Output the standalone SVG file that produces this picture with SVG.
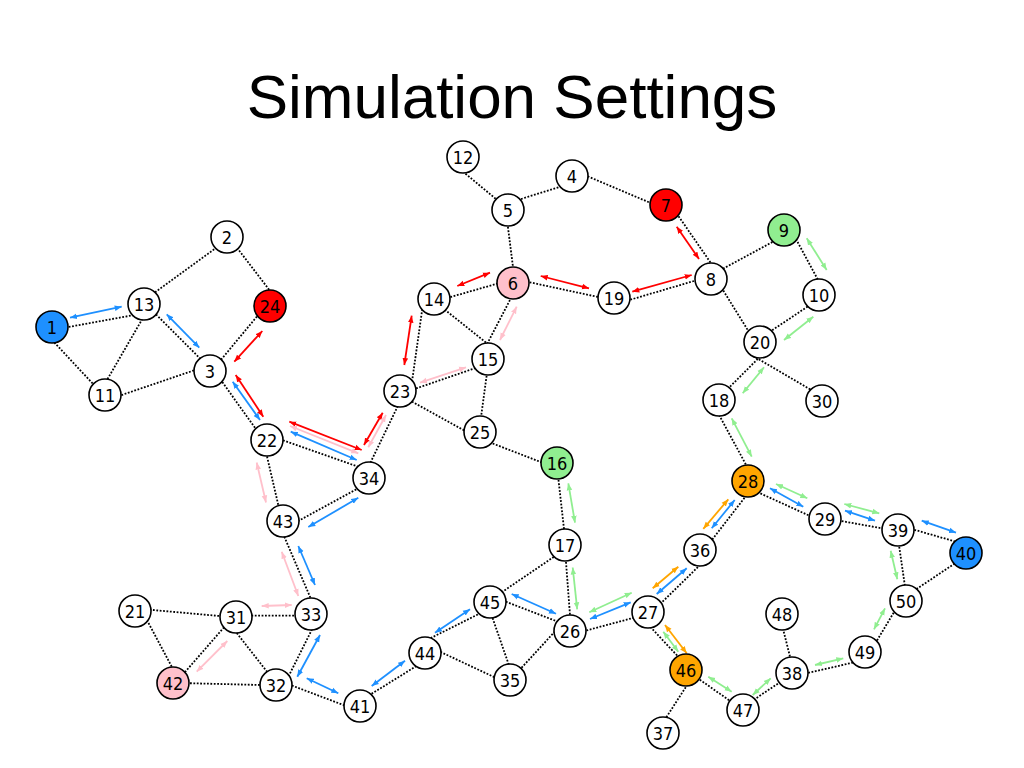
<svg xmlns="http://www.w3.org/2000/svg" width="1024" height="768" viewBox="0 0 1024 768">
<style>
.e{stroke:#000;stroke-width:1.8;stroke-dasharray:1.8 1.6;fill:none}
.a{stroke-width:1.8;fill:none}
.bl{stroke:#1e90ff;marker-start:url(#mb);marker-end:url(#mb)}
.rd{stroke:#ff0000;marker-start:url(#mr);marker-end:url(#mr)}
.pk{stroke:#ffc0cb;marker-start:url(#mp);marker-end:url(#mp)}
.gr{stroke:#90ee90;marker-start:url(#mg);marker-end:url(#mg)}
.or{stroke:#ffa500;marker-start:url(#mo);marker-end:url(#mo)}
.n circle{fill:#fff;stroke:#000;stroke-width:1.6}
.n text{font-family:"DejaVu Sans Condensed","DejaVu Sans",sans-serif;font-stretch:condensed;font-size:18px;text-anchor:middle;fill:#000}
.title{font-family:"Liberation Sans",Arial,sans-serif;font-size:62px;text-anchor:middle;fill:#000}
</style>
<defs>
<marker id="mb" viewBox="0 0 10 10" refX="10" refY="5" markerWidth="7" markerHeight="7" markerUnits="userSpaceOnUse" orient="auto-start-reverse"><path d="M0,1 L10,5 L0,9 z" fill="#1e90ff"/></marker>
<marker id="mr" viewBox="0 0 10 10" refX="10" refY="5" markerWidth="7" markerHeight="7" markerUnits="userSpaceOnUse" orient="auto-start-reverse"><path d="M0,1 L10,5 L0,9 z" fill="#ff0000"/></marker>
<marker id="mp" viewBox="0 0 10 10" refX="10" refY="5" markerWidth="7" markerHeight="7" markerUnits="userSpaceOnUse" orient="auto-start-reverse"><path d="M0,1 L10,5 L0,9 z" fill="#ffc0cb"/></marker>
<marker id="mg" viewBox="0 0 10 10" refX="10" refY="5" markerWidth="7" markerHeight="7" markerUnits="userSpaceOnUse" orient="auto-start-reverse"><path d="M0,1 L10,5 L0,9 z" fill="#90ee90"/></marker>
<marker id="mo" viewBox="0 0 10 10" refX="10" refY="5" markerWidth="7" markerHeight="7" markerUnits="userSpaceOnUse" orient="auto-start-reverse"><path d="M0,1 L10,5 L0,9 z" fill="#ffa500"/></marker>
</defs>
<rect width="1024" height="768" fill="#fff"/>
<text class="title" x="512" y="118">Simulation Settings</text>
<g id="connectors">
<g id="edges">
<line class="e" x1="52" y1="330" x2="144" y2="313.2"/>
<line class="e" x1="47.3" y1="335" x2="103.4" y2="395"/>
<line class="e" x1="151" y1="304" x2="98.3" y2="395"/>
<line class="e" x1="144" y1="300.4" x2="227" y2="240"/>
<line class="e" x1="144" y1="302.4" x2="210" y2="368.4"/>
<line class="e" x1="228.8" y1="237" x2="274.7" y2="297"/>
<line class="e" x1="265.6" y1="306" x2="211.7" y2="371"/>
<line class="e" x1="210" y1="364.9" x2="105" y2="400.7"/>
<line class="e" x1="214.4" y1="371" x2="263.7" y2="440"/>
<line class="e" x1="267" y1="434.7" x2="369" y2="470.5"/>
<line class="e" x1="263.2" y1="440" x2="282" y2="521"/>
<line class="e" x1="363" y1="478" x2="405.1" y2="391"/>
<line class="e" x1="283" y1="529.3" x2="369" y2="482.4"/>
<line class="e" x1="423.7" y1="299" x2="410.7" y2="391"/>
<line class="e" x1="400" y1="394" x2="488" y2="363.7"/>
<line class="e" x1="400" y1="395" x2="480" y2="439.2"/>
<line class="e" x1="434" y1="301.8" x2="513" y2="279.1"/>
<line class="e" x1="434" y1="301.1" x2="492" y2="347.3"/>
<line class="e" x1="479.3" y1="359" x2="518.8" y2="283"/>
<line class="e" x1="488.9" y1="359" x2="479" y2="432"/>
<line class="e" x1="505.8" y1="210" x2="515" y2="283"/>
<line class="e" x1="513" y1="278.7" x2="614" y2="300.4"/>
<line class="e" x1="455" y1="165" x2="508" y2="209"/>
<line class="e" x1="508" y1="203.1" x2="572" y2="183"/>
<line class="e" x1="572" y1="169.7" x2="666" y2="209.5"/>
<line class="e" x1="670.8" y1="205" x2="722.6" y2="280"/>
<line class="e" x1="614" y1="304.5" x2="711" y2="276"/>
<line class="e" x1="711" y1="275.2" x2="784" y2="235.8"/>
<line class="e" x1="716.1" y1="279" x2="755.2" y2="342"/>
<line class="e" x1="791.1" y1="230" x2="826.2" y2="295"/>
<line class="e" x1="819" y1="299.1" x2="760" y2="338.2"/>
<line class="e" x1="765" y1="351.7" x2="716.7" y2="400"/>
<line class="e" x1="750" y1="354.1" x2="822" y2="396.3"/>
<line class="e" x1="711" y1="400" x2="754.8" y2="481"/>
<line class="e" x1="480" y1="438.6" x2="557" y2="468.3"/>
<line class="e" x1="556.6" y1="463" x2="565.8" y2="545"/>
<line class="e" x1="565" y1="549.3" x2="490" y2="600.2"/>
<line class="e" x1="564.7" y1="545" x2="571.2" y2="631"/>
<line class="e" x1="490" y1="608.4" x2="425" y2="640.9"/>
<line class="e" x1="490" y1="595.6" x2="570" y2="626.4"/>
<line class="e" x1="487" y1="602" x2="514.1" y2="680"/>
<line class="e" x1="425" y1="644.7" x2="510" y2="684.5"/>
<line class="e" x1="360" y1="701" x2="425" y2="660.7"/>
<line class="e" x1="510" y1="680.3" x2="556" y2="630.3"/>
<line class="e" x1="570" y1="634.9" x2="648" y2="613.9"/>
<line class="e" x1="648" y1="615.9" x2="703" y2="562.1"/>
<line class="e" x1="757" y1="481.7" x2="703.6" y2="550.7"/>
<line class="e" x1="636.4" y1="612" x2="690.7" y2="670"/>
<line class="e" x1="748" y1="487.8" x2="825" y2="522.8"/>
<line class="e" x1="825" y1="518.1" x2="898" y2="531.2"/>
<line class="e" x1="898" y1="525.1" x2="966" y2="544.6"/>
<line class="e" x1="896.8" y1="530" x2="907.1" y2="601"/>
<line class="e" x1="966" y1="556" x2="906" y2="596"/>
<line class="e" x1="900.7" y1="601" x2="870.1" y2="652"/>
<line class="e" x1="863" y1="660.3" x2="790" y2="677"/>
<line class="e" x1="794.1" y1="673" x2="779.3" y2="614"/>
<line class="e" x1="792" y1="674.2" x2="743" y2="707"/>
<line class="e" x1="743" y1="710" x2="686" y2="670"/>
<line class="e" x1="696.8" y1="670" x2="656.2" y2="733"/>
<line class="e" x1="277.6" y1="521" x2="317.4" y2="614"/>
<line class="e" x1="311" y1="615.7" x2="236" y2="615.7"/>
<line class="e" x1="319.7" y1="614" x2="284.2" y2="685"/>
<line class="e" x1="236" y1="617.5" x2="135" y2="608.4"/>
<line class="e" x1="233" y1="617" x2="175.5" y2="683"/>
<line class="e" x1="224.2" y1="617" x2="277.4" y2="685"/>
<line class="e" x1="142.1" y1="611" x2="180.4" y2="683"/>
<line class="e" x1="173" y1="682.8" x2="276" y2="685.4"/>
<line class="e" x1="276" y1="679.5" x2="360" y2="711.3"/>
</g>
<g id="flows">
<line class="a bl" x1="70" y1="317.7" x2="121.7" y2="306.7"/>
<line class="a bl" x1="166.7" y1="314.3" x2="199.3" y2="347.7"/>
<line class="a rd" x1="262.3" y1="331" x2="234.3" y2="361.7"/>
<line class="a rd" x1="235.7" y1="375" x2="263.3" y2="416.7"/>
<line class="a bl" x1="232.7" y1="381.7" x2="260" y2="420"/>
<line class="a rd" x1="289.3" y1="421.7" x2="361.7" y2="450"/>
<line class="a pk" x1="290" y1="426" x2="358.3" y2="453.3"/>
<line class="a bl" x1="290.7" y1="431.7" x2="356.7" y2="460"/>
<line class="a rd" x1="364" y1="445" x2="382.7" y2="412.7"/>
<line class="a pk" x1="368.3" y1="447.3" x2="386" y2="415"/>
<line class="a pk" x1="256.7" y1="462.5" x2="266" y2="502.5"/>
<line class="a bl" x1="308.3" y1="527" x2="358.3" y2="497.8"/>
<line class="a rd" x1="676.7" y1="226.7" x2="699" y2="259"/>
<line class="a rd" x1="540.7" y1="276" x2="589" y2="288.3"/>
<line class="a rd" x1="632.3" y1="291.7" x2="691.7" y2="275"/>
<line class="a rd" x1="457.3" y1="286" x2="490" y2="272.7"/>
<line class="a rd" x1="411.7" y1="315.7" x2="404.3" y2="365"/>
<line class="a pk" x1="500" y1="340" x2="516.7" y2="306.7"/>
<line class="a pk" x1="420" y1="382.7" x2="466" y2="367.3"/>
<line class="a gr" x1="806.7" y1="238.3" x2="826.7" y2="270"/>
<line class="a gr" x1="813.3" y1="316.7" x2="784" y2="340"/>
<line class="a gr" x1="764" y1="367.3" x2="742.7" y2="393.3"/>
<line class="a gr" x1="731.7" y1="418.3" x2="751.7" y2="456.7"/>
<line class="a gr" x1="776" y1="484" x2="807.3" y2="498.3"/>
<line class="a bl" x1="770" y1="488.3" x2="803.3" y2="506.7"/>
<line class="a gr" x1="844.3" y1="504" x2="879.3" y2="513.3"/>
<line class="a bl" x1="845" y1="510.7" x2="875" y2="520.7"/>
<line class="a bl" x1="921.7" y1="520.7" x2="956" y2="532.7"/>
<line class="a gr" x1="890.7" y1="550.7" x2="897.3" y2="579.3"/>
<line class="a or" x1="703.3" y1="528.8" x2="728.3" y2="499.3"/>
<line class="a bl" x1="711.7" y1="528.3" x2="734.7" y2="500"/>
<line class="a gr" x1="568.3" y1="483.3" x2="575" y2="522.7"/>
<line class="a gr" x1="572.7" y1="567.5" x2="577.2" y2="609.3"/>
<line class="a gr" x1="589.3" y1="612.3" x2="631.7" y2="592.7"/>
<line class="a bl" x1="590" y1="619" x2="630.7" y2="602.3"/>
<line class="a or" x1="652.7" y1="588.3" x2="678.3" y2="566.7"/>
<line class="a bl" x1="656.7" y1="594" x2="686.7" y2="568.3"/>
<line class="a bl" x1="435" y1="632.7" x2="470" y2="609.3"/>
<line class="a bl" x1="511.7" y1="594" x2="556" y2="613.7"/>
<line class="a or" x1="665" y1="625" x2="686.7" y2="653.3"/>
<line class="a gr" x1="663.3" y1="631.7" x2="678.3" y2="651.7"/>
<line class="a gr" x1="708.3" y1="676.7" x2="731.7" y2="691.7"/>
<line class="a gr" x1="752.7" y1="695" x2="770.7" y2="678.3"/>
<line class="a gr" x1="815" y1="665" x2="843.3" y2="658.3"/>
<line class="a gr" x1="874" y1="629.3" x2="885" y2="608.3"/>
<line class="a pk" x1="281.7" y1="551.7" x2="298.3" y2="596"/>
<line class="a bl" x1="298.3" y1="546" x2="315" y2="585"/>
<line class="a pk" x1="261.7" y1="606" x2="291.7" y2="605"/>
<line class="a pk" x1="196.7" y1="671.7" x2="227.3" y2="641"/>
<line class="a bl" x1="320" y1="635" x2="297.3" y2="676.7"/>
<line class="a bl" x1="306.7" y1="678.3" x2="338.3" y2="693.3"/>
<line class="a bl" x1="371.7" y1="686" x2="405" y2="660.7"/>
</g>
</g>
<g id="node-1" class="n"><circle cx="52" cy="327" r="16" style="fill:#1e90ff"/><text x="52" y="333.5">1</text></g>
<g id="node-2" class="n"><circle cx="227" cy="237" r="16"/><text x="227" y="243.5">2</text></g>
<g id="node-3" class="n"><circle cx="210" cy="371" r="16"/><text x="210" y="377.5">3</text></g>
<g id="node-4" class="n"><circle cx="572" cy="176" r="16"/><text x="572" y="182.5">4</text></g>
<g id="node-5" class="n"><circle cx="508" cy="210" r="16"/><text x="508" y="216.5">5</text></g>
<g id="node-6" class="n"><circle cx="513" cy="283" r="16" style="fill:#ffc0cb"/><text x="513" y="289.5">6</text></g>
<g id="node-7" class="n"><circle cx="666" cy="205" r="16" style="fill:#ff0000"/><text x="666" y="211.5">7</text></g>
<g id="node-8" class="n"><circle cx="711" cy="279" r="16"/><text x="711" y="285.5">8</text></g>
<g id="node-9" class="n"><circle cx="784" cy="230" r="16" style="fill:#90ee90"/><text x="784" y="236.5">9</text></g>
<g id="node-10" class="n"><circle cx="819" cy="295" r="16"/><text x="819" y="301.5">10</text></g>
<g id="node-11" class="n"><circle cx="105" cy="395" r="16"/><text x="105" y="401.5">11</text></g>
<g id="node-12" class="n"><circle cx="463" cy="157" r="16"/><text x="463" y="163.5">12</text></g>
<g id="node-13" class="n"><circle cx="144" cy="304" r="16"/><text x="144" y="310.5">13</text></g>
<g id="node-14" class="n"><circle cx="434" cy="299" r="16"/><text x="434" y="305.5">14</text></g>
<g id="node-15" class="n"><circle cx="488" cy="359" r="16"/><text x="488" y="365.5">15</text></g>
<g id="node-16" class="n"><circle cx="557" cy="463" r="16" style="fill:#90ee90"/><text x="557" y="469.5">16</text></g>
<g id="node-17" class="n"><circle cx="565" cy="545" r="16"/><text x="565" y="551.5">17</text></g>
<g id="node-18" class="n"><circle cx="719" cy="400" r="16"/><text x="719" y="406.5">18</text></g>
<g id="node-19" class="n"><circle cx="614" cy="298" r="16"/><text x="614" y="304.5">19</text></g>
<g id="node-20" class="n"><circle cx="760" cy="342" r="16"/><text x="760" y="348.5">20</text></g>
<g id="node-21" class="n"><circle cx="135" cy="611" r="16"/><text x="135" y="617.5">21</text></g>
<g id="node-22" class="n"><circle cx="267" cy="440" r="16"/><text x="267" y="446.5">22</text></g>
<g id="node-23" class="n"><circle cx="400" cy="391" r="16"/><text x="400" y="397.5">23</text></g>
<g id="node-24" class="n"><circle cx="270" cy="306" r="16" style="fill:#ff0000"/><text x="270" y="312.5">24</text></g>
<g id="node-25" class="n"><circle cx="480" cy="432" r="16"/><text x="480" y="438.5">25</text></g>
<g id="node-26" class="n"><circle cx="570" cy="631" r="16"/><text x="570" y="637.5">26</text></g>
<g id="node-27" class="n"><circle cx="648" cy="612" r="16"/><text x="648" y="618.5">27</text></g>
<g id="node-28" class="n"><circle cx="748" cy="481" r="16" style="fill:#ffa500"/><text x="748" y="487.5">28</text></g>
<g id="node-29" class="n"><circle cx="825" cy="519" r="16"/><text x="825" y="525.5">29</text></g>
<g id="node-30" class="n"><circle cx="822" cy="401" r="16"/><text x="822" y="407.5">30</text></g>
<g id="node-31" class="n"><circle cx="236" cy="617" r="16"/><text x="236" y="623.5">31</text></g>
<g id="node-32" class="n"><circle cx="276" cy="685" r="16"/><text x="276" y="691.5">32</text></g>
<g id="node-33" class="n"><circle cx="311" cy="614" r="16"/><text x="311" y="620.5">33</text></g>
<g id="node-34" class="n"><circle cx="369" cy="478" r="16"/><text x="369" y="484.5">34</text></g>
<g id="node-35" class="n"><circle cx="510" cy="680" r="16"/><text x="510" y="686.5">35</text></g>
<g id="node-36" class="n"><circle cx="700" cy="550" r="16"/><text x="700" y="556.5">36</text></g>
<g id="node-37" class="n"><circle cx="663" cy="733" r="16"/><text x="663" y="739.5">37</text></g>
<g id="node-38" class="n"><circle cx="792" cy="673" r="16"/><text x="792" y="679.5">38</text></g>
<g id="node-39" class="n"><circle cx="898" cy="530" r="16"/><text x="898" y="536.5">39</text></g>
<g id="node-40" class="n"><circle cx="966" cy="553" r="16" style="fill:#1e90ff"/><text x="966" y="559.5">40</text></g>
<g id="node-41" class="n"><circle cx="360" cy="706" r="16"/><text x="360" y="712.5">41</text></g>
<g id="node-42" class="n"><circle cx="173" cy="683" r="16" style="fill:#ffc0cb"/><text x="173" y="689.5">42</text></g>
<g id="node-43" class="n"><circle cx="283" cy="521" r="16"/><text x="283" y="527.5">43</text></g>
<g id="node-44" class="n"><circle cx="425" cy="653" r="16"/><text x="425" y="659.5">44</text></g>
<g id="node-45" class="n"><circle cx="490" cy="602" r="16"/><text x="490" y="608.5">45</text></g>
<g id="node-46" class="n"><circle cx="686" cy="670" r="16" style="fill:#ffa500"/><text x="686" y="676.5">46</text></g>
<g id="node-47" class="n"><circle cx="743" cy="710" r="16"/><text x="743" y="716.5">47</text></g>
<g id="node-48" class="n"><circle cx="782" cy="614" r="16"/><text x="782" y="620.5">48</text></g>
<g id="node-49" class="n"><circle cx="865" cy="652" r="16"/><text x="865" y="658.5">49</text></g>
<g id="node-50" class="n"><circle cx="906" cy="601" r="16"/><text x="906" y="607.5">50</text></g>
</svg>
